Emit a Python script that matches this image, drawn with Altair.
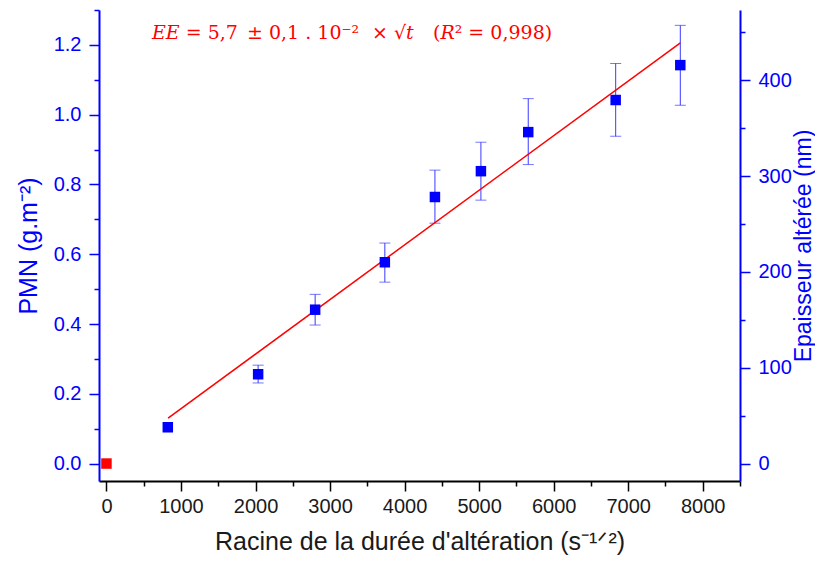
import altair as alt
import pandas as pd

# ---- data ----
sqrt_t = [823, 2035, 2800, 3735, 4407, 5024, 5659, 6832, 7699]
pmn = [0.104, 0.256, 0.441, 0.577, 0.764, 0.838, 0.950, 1.042, 1.142]
err_sqrt_t = [2035, 2800, 3735, 4407, 5024, 5659, 6832, 7699]
pmn_low = [0.231, 0.397, 0.520, 0.689, 0.755, 0.857, 0.938, 1.027]
pmn_high = [0.282, 0.485, 0.632, 0.841, 0.921, 1.046, 1.147, 1.256]
ref_sqrt_t = [0]
ref_pmn = [0.0]
fit_sqrt_t = [827, 7700]
fit_pmn = [0.130, 1.206]

x_ticks = [0, 1000, 2000, 3000, 4000, 5000, 6000, 7000, 8000]
x_minor = [500, 1500, 2500, 3500, 4500, 5500, 6500, 7500, 8500]
y_ticks = [0.0, 0.2, 0.4, 0.6, 0.8, 1.0, 1.2]
y_minor = [0.1, 0.3, 0.5, 0.7, 0.9, 1.1, 1.3]
r_ticks = [0, 100, 200, 300, 400]
r_minor = [50, 150, 250, 350, 450]

equation_parts = ["𝐸𝐸 = 5,7", "± 0,1 . 10⁻²", "× √𝑡", "(𝑅² = 0,998)"]
x_title = "Racine de la durée d'altération (s⁻¹ᐟ²)"
y_title = "PMN (g.m⁻²)"
r_title = "Epaisseur altérée (nm)"

BLUE = "#0000ff"
RED = "#ff0000"

X = alt.Scale(domain=[-100, 8500], nice=False, zero=False)
Y = alt.Scale(domain=[-0.05, 1.3], nice=False, zero=False)
R = alt.Scale(domain=[-18.2, 473.2], nice=False, zero=False)

pts = pd.DataFrame({"sqrt_t": sqrt_t, "pmn": pmn})
err = pd.DataFrame({"sqrt_t": err_sqrt_t, "low": pmn_low, "high": pmn_high})
ref = pd.DataFrame({"sqrt_t": ref_sqrt_t, "pmn": ref_pmn})
fit = pd.DataFrame({"sqrt_t": fit_sqrt_t, "pmn": fit_pmn})

# minor tick axes
x_minor_layer = alt.Chart(pd.DataFrame({"v": x_minor})).mark_point(opacity=0).encode(
    x=alt.X("v:Q", scale=X, axis=alt.Axis(orient="bottom", values=x_minor, labels=False,
                                           domain=False, tickSize=5, tickColor="black",
                                           title=None, grid=False))
)
y_minor_layer = alt.Chart(pd.DataFrame({"v": y_minor})).mark_point(opacity=0).encode(
    y=alt.Y("v:Q", scale=Y, axis=alt.Axis(orient="left", values=y_minor, labels=False,
                                           domain=False, tickSize=5, tickColor=BLUE,
                                           title=None, grid=False))
)
r_minor_layer = alt.Chart(pd.DataFrame({"v": r_minor})).mark_point(opacity=0).encode(
    y=alt.Y("v:Q", scale=R, axis=alt.Axis(orient="right", values=r_minor, labels=False,
                                           domain=False, tickSize=5, tickColor=BLUE,
                                           title=None, grid=False))
)

# right axis
r_axis_layer = alt.Chart(pd.DataFrame({"v": r_ticks})).mark_point(opacity=0).encode(
    y=alt.Y("v:Q", scale=R, axis=alt.Axis(orient="right", values=r_ticks, format="d",
                                           tickSize=10, labelPadding=8, domainColor=BLUE,
                                           tickColor=BLUE, labelColor=BLUE, titleColor=BLUE,
                                           title=r_title, titleAngle=270, titleBaseline="top",
                                           titlePadding=1, titleFontSize=23, grid=False))
)

# error bars
err_rule = alt.Chart(err).mark_rule(color="#3a3aff", strokeWidth=1).encode(
    x=alt.X("sqrt_t:Q", scale=X, axis=None),
    y=alt.Y("low:Q", scale=Y, axis=None),
    y2="high:Q",
)
cap_low = alt.Chart(err).mark_tick(color="#3a3aff", orient="horizontal", size=11, thickness=1).encode(
    x=alt.X("sqrt_t:Q", scale=X, axis=None),
    y=alt.Y("low:Q", scale=Y, axis=None),
)
cap_high = alt.Chart(err).mark_tick(color="#3a3aff", orient="horizontal", size=11, thickness=1).encode(
    x=alt.X("sqrt_t:Q", scale=X, axis=None),
    y=alt.Y("high:Q", scale=Y, axis=None),
)

# fit line
fit_line = alt.Chart(fit).mark_line(color=RED, strokeWidth=1.5).encode(
    x=alt.X("sqrt_t:Q", scale=X, axis=None),
    y=alt.Y("pmn:Q", scale=Y, axis=None),
)

# main points with main axes
main = alt.Chart(pts).mark_square(size=110, color=BLUE, opacity=1).encode(
    x=alt.X("sqrt_t:Q", scale=X,
            axis=alt.Axis(orient="bottom", values=x_ticks, format="d", title=x_title,
                          tickSize=10, labelPadding=5, titlePadding=13,
                          domainColor="black", tickColor="black",
                          labelColor="#1a1a1a", titleColor="#1a1a1a", grid=False)),
    y=alt.Y("pmn:Q", scale=Y,
            axis=alt.Axis(orient="left", values=y_ticks, format=".1f", title=y_title,
                          tickSize=10, labelPadding=8, titlePadding=12,
                          domainColor=BLUE, tickColor=BLUE, labelColor=BLUE,
                          titleColor=BLUE, grid=False)),
)

ref_pt = alt.Chart(ref).mark_square(size=110, color=RED, opacity=1).encode(
    x=alt.X("sqrt_t:Q", scale=X, axis=None),
    y=alt.Y("pmn:Q", scale=Y, axis=None),
)

# equation annotation, in pieces to mimic math spacing
eq_offsets = [53, 148, 273, 334]
eq_layers = []
for part, off in zip(equation_parts, eq_offsets):
    eq_layers.append(
        alt.Chart(pd.DataFrame({"label": [part]})).mark_text(
            align="left", baseline="middle", font="DejaVu Serif", fontSize=19, color=RED
        ).encode(x=alt.value(off), y=alt.value(23), text="label:N")
    )

chart = alt.layer(
    x_minor_layer, y_minor_layer, r_minor_layer, r_axis_layer,
    err_rule, cap_low, cap_high, fit_line, main, ref_pt, *eq_layers
).resolve_scale(x="independent", y="independent").properties(
    width=641, height=471, autosize="none",
    padding={"left": 91, "top": 2, "right": 75, "bottom": 74},
).configure_view(stroke=None).configure_axis(
    labelFont="Liberation Sans", labelFontSize=20,
    titleFont="Liberation Sans", titleFontSize=25, titleFontWeight="normal",
    domainWidth=2, tickWidth=1.5,
)

chart.save("out.html", embed_options={"renderer": "svg", "actions": False})
